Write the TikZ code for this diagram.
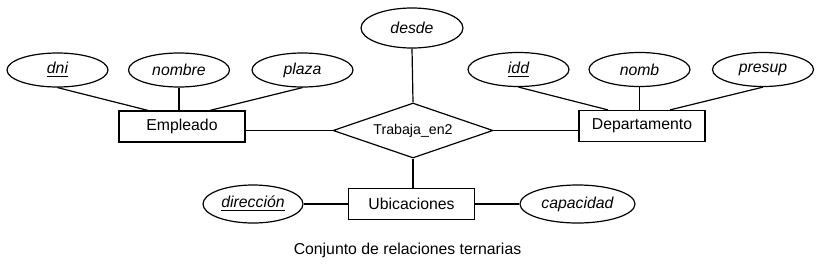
\documentclass[tikz,border=0pt]{standalone}
\usepackage{fontspec}
\setmainfont{Liberation Sans}
\usetikzlibrary{shapes.geometric}

\tikzset{
    entidad/.style={draw, rectangle, minimum width=63pt, minimum height=15.5pt, inner sep=0pt},
    atributo/.style={draw, ellipse, minimum width=50.5pt, minimum height=17pt, inner sep=0pt, font=\fontsize{7.9}{9.5}\selectfont\itshape},
    relacion/.style={draw, diamond, aspect=2.9, minimum width=80pt, minimum height=27.5pt, inner sep=0pt, font=\fontsize{7.1}{8.5}\selectfont}
}

\begin{document}
\begin{tikzpicture}[x=0.5pt, y=-0.5pt, line width=0.6pt, font=\fontsize{7.9}{9.5}\selectfont]

    \useasboundingbox (0,0) rectangle (818,263);

    % Entity sets and the ternary relationship
    \node[entidad] (empleado) at (182,126.5) {Empleado};
    \node[entidad] (departamento) at (642,126) {Departamento};
    \node[entidad] (ubicaciones) at (411.5,204) {Ubicaciones};
    \node[relacion] (trabaja) at (413,130.5) {Trabaja\_en2};

    % Attributes of Empleado
    \node[atributo] (dni) at (57.5,70) {\underline{dni}};
    \node[atributo] (nombre) at (179,70) {nombre};
    \node[atributo] (plaza) at (302.5,70) {plaza};

    % Attribute of the relationship
    \node[atributo, minimum width=51pt, minimum height=20pt] (desde) at (412,28) {desde};

    % Attributes of Departamento
    \node[atributo] (idd) at (518.5,69.5) {\underline{idd}};
    \node[atributo] (nomb) at (639.5,69.5) {nomb};
    \node[atributo] (presup) at (763,69.5) {presup};

    % Attributes of Ubicaciones
    \node[atributo, minimum width=50pt, minimum height=19pt] (direccion) at (253,204) {\underline{dirección}};
    \node[atributo, minimum width=57.5pt, minimum height=19pt] (capacidad) at (577.5,204) {capacidad};

    % Attribute lines
    \draw (dni.south) -- ([xshift=-17pt]empleado.north);
    \draw (nombre.south) -- (nombre.south |- empleado.north);
    \draw (plaza.south) -- ([xshift=14pt]empleado.north);
    \draw (idd.south) -- ([xshift=-17pt]departamento.north);
    \draw (nomb.south) -- (nomb.south |- departamento.north);
    \draw (presup.south) -- ([xshift=14pt]departamento.north);
    \draw (desde.south) -- (trabaja.north);
    \draw (direccion.east) -- (direccion.east -| ubicaciones.west);
    \draw (ubicaciones.east) -- (ubicaciones.east -| capacidad.west);

    % Relationship lines
    \draw (trabaja.west) -- (trabaja.west -| empleado.east);
    \draw (trabaja.east) -- (trabaja.east -| departamento.west);
    \draw (trabaja.south) -- (trabaja.south |- ubicaciones.north);

    % Caption
    \node (titulo) at (407.5,250) {Conjunto de relaciones ternarias};

\end{tikzpicture}
\end{document}
